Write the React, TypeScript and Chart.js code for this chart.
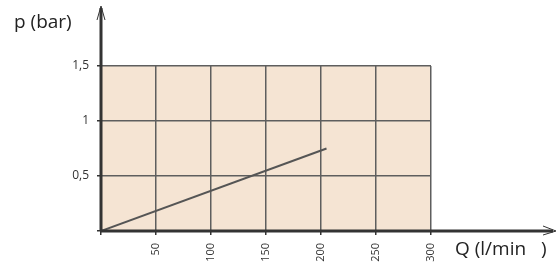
import React, { useEffect, useRef } from "react";
import { Chart, registerables } from "chart.js";

Chart.register(...registerables);

const flowQ = [0, 205];
const pressureP = [0, 0.75];
const xTicks = [0, 50, 100, 150, 200, 250, 300];
const yTicks = [0, 0.5, 1, 1.5];
const xTitle = "Q (l/min   )";
const yTitle = "p (bar)";

const FONT = "'Open Sans', 'DejaVu Sans', sans-serif";

const decorPlugin = {
  id: "decor",
  beforeDraw(chart: any) {
    const { ctx, chartArea: a } = chart;
    ctx.save();
    ctx.fillStyle = "#f5e4d3";
    ctx.fillRect(a.left, a.top, a.right - a.left, a.bottom - a.top);
    ctx.restore();
  },
  afterDraw(chart: any) {
    const { ctx, chartArea: a } = chart;
    ctx.save();
    ctx.strokeStyle = "#333";
    ctx.lineWidth = 3;
    ctx.beginPath();
    ctx.moveTo(a.left, a.bottom);
    ctx.lineTo(553, a.bottom);
    ctx.moveTo(a.left, a.bottom);
    ctx.lineTo(a.left, 8);
    ctx.stroke();
    // arrow heads
    ctx.lineWidth = 1;
    ctx.beginPath();
    ctx.moveTo(543, a.bottom - 5);
    ctx.lineTo(556, a.bottom);
    ctx.lineTo(543, a.bottom + 4);
    ctx.moveTo(a.left - 4, 20);
    ctx.lineTo(a.left, 6);
    ctx.lineTo(a.left + 4, 20);
    ctx.stroke();
    ctx.fillStyle = "#222";
    ctx.font = `19px ${FONT}`;
    ctx.textBaseline = "alphabetic";
    ctx.textAlign = "left";
    ctx.fillText(yTitle, 14, 28);
    ctx.fillText(xTitle, 455, 255);
    ctx.restore();
  },
};

export default function App() {
  const ref = useRef<HTMLCanvasElement>(null);
  useEffect(() => {
    document.body.style.margin = "0";
    const chart = new Chart(ref.current!, {
      type: "line",
      data: {
        datasets: [
          {
            data: flowQ.map((q, i) => ({ x: q, y: pressureP[i] })),
            borderColor: "#555",
            borderWidth: 2,
            pointRadius: 0,
            fill: false,
          },
        ],
      },
      options: {
        animation: false,
        responsive: false,
        maintainAspectRatio: false,
        layout: { padding: { top: 66, right: 129, left: 0, bottom: 0 } },
        plugins: { legend: { display: false }, tooltip: { enabled: false } },
        scales: {
          x: {
            type: "linear",
            min: 0,
            max: 300,
            afterBuildTicks: (s: any) => {
              s.ticks = xTicks.map((v) => ({ value: v }));
            },
            afterFit: (s: any) => {
              s.height = 35;
            },
            grid: { color: "#5e5e5e", lineWidth: 1.5, tickColor: "#333", tickLength: 4 },
            border: { display: false },
            ticks: {
              minRotation: 90,
              maxRotation: 90,
              padding: 8,
              color: "#333",
              font: { size: 11, family: FONT },
              callback: (v: any) => (v === 0 ? "" : String(v)),
            },
          },
          y: {
            type: "linear",
            min: 0,
            max: 1.5,
            afterBuildTicks: (s: any) => {
              s.ticks = yTicks.map((v) => ({ value: v }));
            },
            afterFit: (s: any) => {
              s.width = 101;
            },
            grid: { color: "#5e5e5e", lineWidth: 1.5, tickColor: "#333", tickLength: 4 },
            border: { display: false },
            ticks: {
              padding: 8,
              color: "#333",
              font: { size: 12, family: FONT },
              callback: (v: any) => (v === 0 ? "" : String(v).replace(".", ",")),
            },
          },
        },
      },
      plugins: [decorPlugin],
    });
    return () => chart.destroy();
  }, []);
  return (
    <div style={{ position: "absolute", left: 0, top: 0, width: 560, height: 266 }}>
      <canvas ref={ref} width={560} height={266} style={{ width: 560, height: 266 }} />
    </div>
  );
}
